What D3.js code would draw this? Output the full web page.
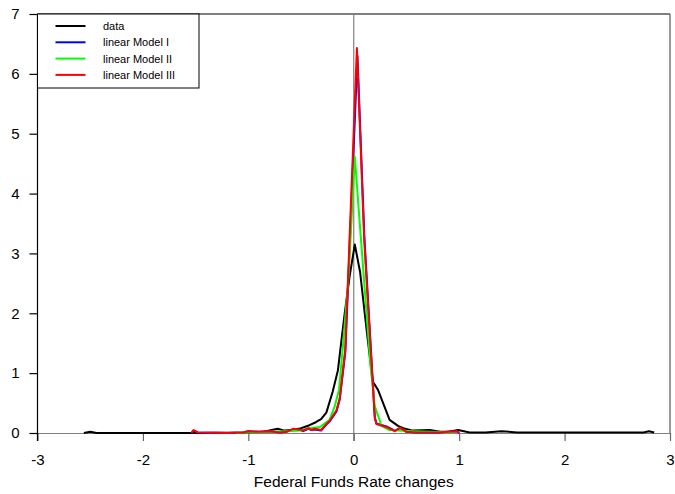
<!DOCTYPE html>
<html lang="en">
<head>
    <meta charset="utf-8">
    <title>Federal Funds Rate changes</title>
    <style>
        body { margin: 0; background: #fff; }
        text { font-family: Arial, "Liberation Sans", sans-serif; }
    </style>
</head>
<body>
<script src="https://cdn.jsdelivr.net/npm/d3@7"></script>
<script>
    // series values: [x, density]
    var dataSeries = [[-2.56,0],[-2.5,0.02],[-2.44,0],[-1.5,0],[-1.0,0.01],[-0.85,0.02],[-0.78,0.05],[-0.72,0.07],
        [-0.66,0.04],[-0.58,0.05],[-0.5,0.08],[-0.42,0.13],[-0.36,0.18],[-0.31,0.23],[-0.26,0.34],[-0.2,0.69],
        [-0.15,1.05],[-0.12,1.5],[-0.09,1.94],[-0.04,2.61],[0.01,3.15],[0.06,2.69],[0.12,1.75],[0.18,0.86],
        [0.23,0.72],[0.34,0.22],[0.42,0.12],[0.47,0.08],[0.56,0.04],[0.72,0.05],[0.82,0.02],[0.9,0.02],
        [0.99,0.05],[1.1,0.01],[1.25,0.01],[1.4,0.03],[1.55,0.01],[2.0,0.01],[2.5,0.01],[2.75,0.01],[2.8,0.03],[2.85,0.01]];
    var model1 = [[-1.54,0],[-1.52,0.04],[-1.48,0.01],[-1.2,0],[-1.05,0.01],[-1.0,0.03],[-0.9,0.02],[-0.8,0.03],
        [-0.7,0.01],[-0.64,0.02],[-0.575,0.06],[-0.52,0.06],[-0.48,0.03],[-0.43,0.07],[-0.4,0.05],[-0.37,0.06],
        [-0.31,0.04],[-0.26,0.14],[-0.23,0.19],[-0.164,0.36],[-0.133,0.56],[-0.08,1.35],[0.035,6.3],[0.1,3.3],
        [0.2,0.26],[0.215,0.16],[0.31,0.11],[0.39,0.04],[0.44,0.08],[0.5,0.02],[0.6,0.01],[0.8,0.01],[0.9,0.02],
        [0.98,0.03],[1.0,0]];
    var model2 = [[-1.12,0],[-1.0,0.01],[-0.8,0.02],[-0.65,0.03],[-0.5,0.04],[-0.45,0.07],[-0.32,0.1],[-0.23,0.22],
        [-0.18,0.45],[-0.14,0.72],[-0.1,1.5],[-0.05,2.6],[0.01,4.62],[0.04,3.9],[0.1,2.5],[0.16,1.1],[0.2,0.44],
        [0.245,0.22],[0.26,0.12],[0.34,0.05],[0.56,0.03],[0.72,0.02],[0.95,0.01]];
    var model3 = [[-1.54,0],[-1.52,0.05],[-1.48,0.01],[-1.2,0],[-1.05,0.01],[-1.0,0.03],[-0.9,0.02],[-0.8,0.03],
        [-0.7,0.01],[-0.64,0.02],[-0.575,0.07],[-0.52,0.06],[-0.48,0.04],[-0.43,0.08],[-0.4,0.05],[-0.37,0.07],
        [-0.31,0.05],[-0.26,0.15],[-0.23,0.2],[-0.164,0.38],[-0.133,0.58],[-0.08,1.4],[0.03,6.43],[0.1,3.2],
        [0.2,0.25],[0.215,0.15],[0.31,0.1],[0.39,0.03],[0.44,0.09],[0.5,0.02],[0.6,0.01],[0.8,0.01],[0.9,0.02],
        [0.98,0.03],[1.0,0]];

    var seriesNames = ["data", "linear Model I", "linear Model II", "linear Model III"];
    var seriesColors = ["#000000", "#0000ff", "#00ff00", "#ff0000"];
    var xTicks = [-3, -2, -1, 0, 1, 2, 3];
    var yTicks = [0, 1, 2, 3, 4, 5, 6, 7];

    var margin = {top: 14, right: 5, bottom: 61, left: 37.5},
        width = 675 - margin.left - margin.right,
        height = 494 - margin.top - margin.bottom;

    var x = d3.scaleLinear().domain([-3, 3]).range([0, width]);
    var y = d3.scaleLinear().domain([0, 7]).range([height, 0]);

    var svg = d3.select("body").append("svg")
        .attr("width", 675)
        .attr("height", 494)
        .append("g")
        .attr("transform", "translate(" + margin.left + "," + margin.top + ")");

    // frame: top and right
    svg.append("line").attr("x1", 0).attr("x2", width).attr("y1", 0).attr("y2", 0)
        .attr("stroke", "#000").attr("stroke-width", 1.2);
    svg.append("line").attr("x1", width).attr("x2", width).attr("y1", 0).attr("y2", height)
        .attr("stroke", "#555").attr("stroke-width", 1.2);

    // zero reference at x = 0
    svg.append("line").attr("x1", x(0)).attr("x2", x(0)).attr("y1", 0).attr("y2", height + 8)
        .attr("stroke", "#808080").attr("stroke-width", 1.2);

    // x axis
    var gx = svg.append("g")
        .attr("transform", "translate(0," + height + ")")
        .call(d3.axisBottom(x).tickValues(xTicks).tickSize(8).tickPadding(13).tickSizeOuter(0)
            .tickFormat(function(d) { return d < 0 ? "-" + Math.abs(d) : d; }));
    gx.select(".domain").attr("stroke", "#808080").attr("stroke-width", 1.2);
    gx.selectAll(".tick line").attr("stroke", "#666").attr("stroke-width", 1.2);
    gx.selectAll("text").attr("font-size", "15px").attr("fill", "#000")
        .style("font-family", "Arial, 'Liberation Sans', sans-serif");

    // y axis
    var gy = svg.append("g")
        .call(d3.axisLeft(y).tickValues(yTicks).tickSize(8).tickPadding(10).tickSizeOuter(0)
            .tickFormat(d3.format("d")));
    gy.select(".domain").attr("stroke", "#000").attr("stroke-width", 1.2)
        .attr("d", "M0," + (height + 8) + "V0");
    gy.selectAll(".tick line").attr("stroke", "#000").attr("stroke-width", 1.2);
    gy.selectAll("text").attr("font-size", "15px").attr("fill", "#000")
        .style("font-family", "Arial, 'Liberation Sans', sans-serif");

    // axis title
    svg.append("text")
        .attr("x", x(0))
        .attr("y", height + 54)
        .attr("text-anchor", "middle")
        .attr("font-size", "15.5px")
        .text("Federal Funds Rate changes");

    var line = d3.line()
        .x(function(d) { return x(d[0]); })
        .y(function(d) { return y(d[1]); });

    [dataSeries, model1, model2, model3].forEach(function(s, i) {
        svg.append("path")
            .datum(s)
            .attr("fill", "none")
            .attr("stroke", seriesColors[i])
            .attr("stroke-width", 2)
            .attr("stroke-linejoin", "round")
            .attr("d", line);
    });

    // legend
    var legend = svg.append("g");
    legend.append("rect")
        .attr("x", 0).attr("y", 0).attr("width", 161.5).attr("height", 74)
        .attr("fill", "#fff").attr("stroke", "#000").attr("stroke-width", 1);
    seriesNames.forEach(function(name, i) {
        var ly = 12 + i * 16.3;
        legend.append("line")
            .attr("x1", 18).attr("x2", 48).attr("y1", ly).attr("y2", ly)
            .attr("stroke", seriesColors[i]).attr("stroke-width", 2);
        legend.append("text")
            .attr("x", 65.5).attr("y", ly + 4)
            .attr("font-size", "11px")
            .text(name);
    });
</script>
</body>
</html>
